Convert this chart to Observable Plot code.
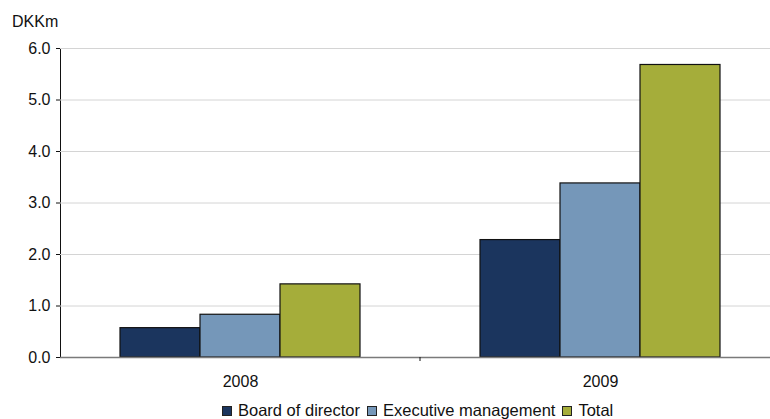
<!DOCTYPE html>
<html><head><meta charset="utf-8">
<script src="https://cdn.jsdelivr.net/npm/d3@7"></script>
<script src="https://cdn.jsdelivr.net/npm/@observablehq/plot@0.6"></script>
<style>
body{margin:0;background:#fff;font-family:"Liberation Sans",Arial,sans-serif;color:#111;width:770px;overflow:hidden;}
#unit{height:34px;box-sizing:border-box;padding-top:13px;padding-left:12px;font-size:16px;line-height:17px;}
#legend{height:23px;box-sizing:border-box;padding-top:5px;display:flex;align-items:center;padding-left:222px;font-size:16.5px;line-height:18px;white-space:nowrap;}
#legend .item{display:flex;align-items:center;margin-right:7px;}
#legend .sw{width:8px;height:8px;border:1px solid #222;margin-right:6px;margin-top:2px;}
</style></head><body>
<div id="unit">DKKm</div>
<div id="chart"></div>
<div id="legend"></div>
<script>
const years = ["2008", "2009"];
const series = ["Board of director", "Executive management", "Total"];
const board = [0.57, 2.28];
const executive = [0.83, 3.38];
const total = [1.42, 5.68];
const colors = ["#1b355e", "#7597b9", "#a5ad3a"];
const yTicks = [0, 1, 2, 3, 4, 5, 6];

const valuesBySeries = [board, executive, total];
const data = [];
years.forEach((yr, i) => series.forEach((s, j) => data.push({year: yr, series: s, value: valuesBySeries[j][i]})));

const chart = Plot.plot({
  width: 770,
  height: 362,
  marginLeft: 60,
  marginRight: -10,
  marginTop: 14,
  marginBottom: 39,
  style: {fontFamily: "'Liberation Sans', Arial, sans-serif", fontSize: "16px", color: "#111", background: "#fff"},
  fx: {domain: years, padding: 0, label: null, tickSize: 0, tickPadding: 18},
  x: {domain: series, paddingInner: 0, paddingOuter: 0.75, axis: null},
  y: {domain: [0, 6], ticks: yTicks, tickFormat: ".1f", label: null, line: true, tickSize: 4, tickPadding: 6},
  color: {domain: series, range: colors},
  marks: [
    Plot.gridY(yTicks, {stroke: "#d4d4d4", strokeOpacity: 1}),
    Plot.barY(data, {fx: "year", x: "series", y: "value", fill: "series", stroke: "#111", strokeWidth: 1.2}),
    Plot.ruleY([0], {stroke: "#7a7a7a", strokeWidth: 1.5})
  ]
});
document.getElementById("chart").appendChild(chart);

// separator tick between categories, placed with Plot's own fx and y scales
const fxs = chart.scale("fx");
const ys = chart.scale("y");
const band = d3.scaleBand().domain(fxs.domain).range(fxs.range).paddingInner(0).paddingOuter(0);
const y0 = ys.range[0];
for (let i = 1; i < years.length; i++) {
  const bx = band(years[i]);
  d3.select(chart).append("line")
    .attr("x1", bx).attr("x2", bx).attr("y1", y0).attr("y2", y0 + 4)
    .attr("stroke", "#111").attr("stroke-width", 1);
}

const legend = d3.select("#legend");
series.forEach((s, j) => {
  const it = legend.append("div").attr("class", "item");
  it.append("div").attr("class", "sw").style("background", colors[j]);
  it.append("span").text(s);
});
</script>
</body></html>
